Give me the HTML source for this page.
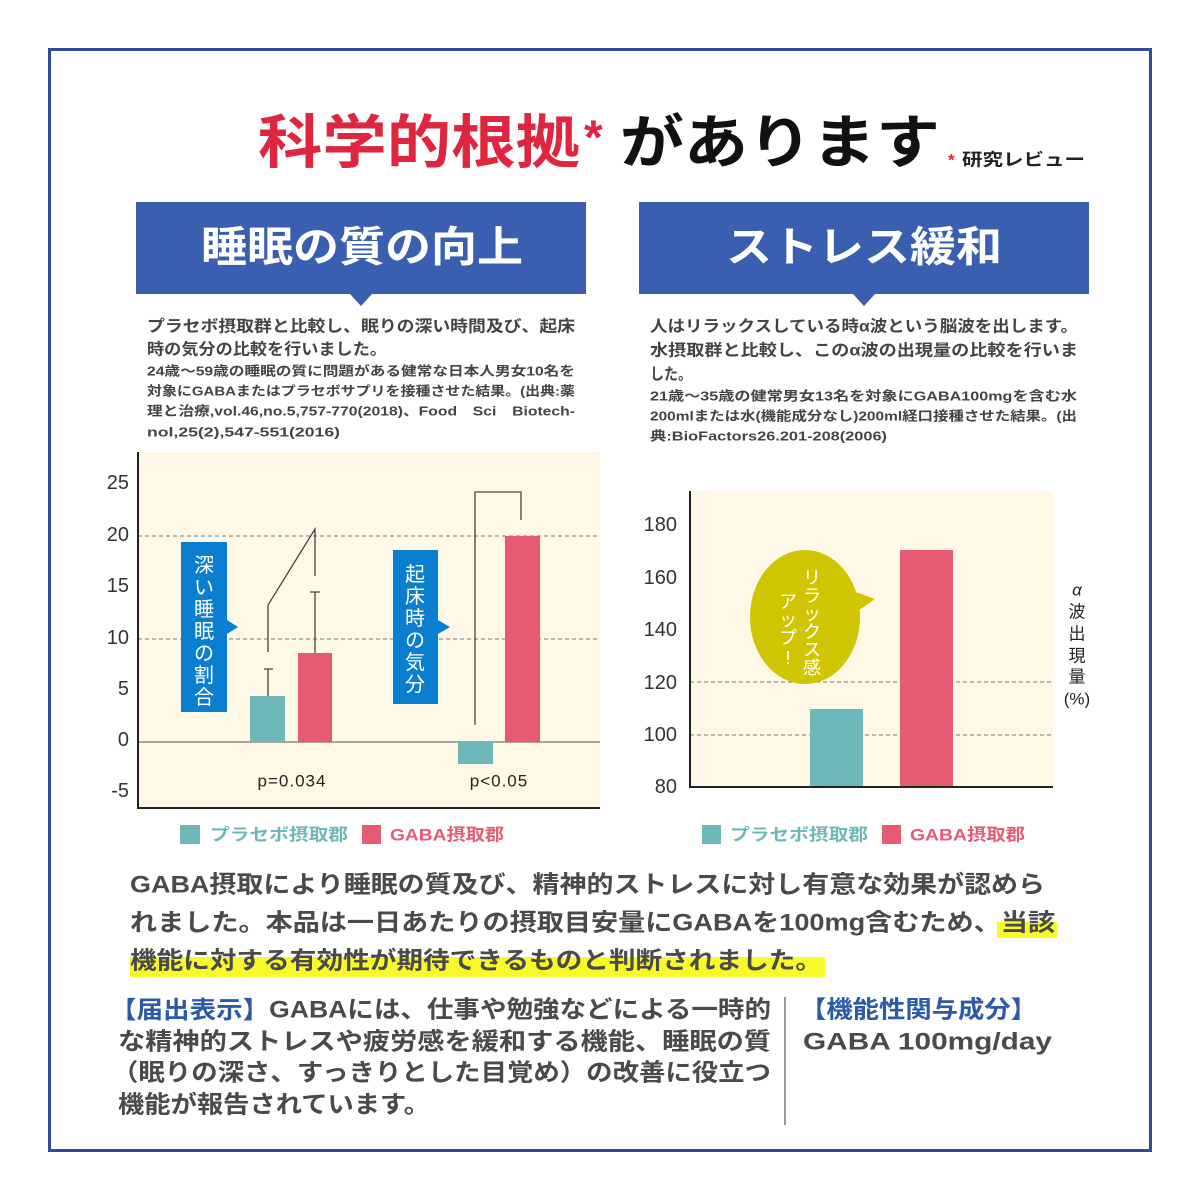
<!DOCTYPE html>
<html><head><meta charset="utf-8"><style>body{margin:0;background:#fff}svg{display:block}text{font-family:"Liberation Sans","Noto Sans CJK JP",sans-serif}</style></head><body>
<svg width="1200" height="1200" viewBox="0 0 1200 1200" xmlns="http://www.w3.org/2000/svg">
<rect width="1200" height="1200" fill="#fff"/>
<rect x="49.5" y="49.5" width="1101" height="1101" fill="none" stroke="#2e4c98" stroke-width="3"/>
<g dominant-baseline="central" font-weight="bold">
<text x="258" y="143" font-size="58" fill="#e0263e" textLength="322" lengthAdjust="spacingAndGlyphs">科学的根拠</text>
<text x="584" y="138" font-size="48" fill="#e0263e">*</text>
<text x="620" y="143" font-size="58" fill="#111" textLength="320" lengthAdjust="spacingAndGlyphs">があります</text>
<text x="948" y="160" font-size="17" fill="#e0263e">*</text>
<text x="962" y="160" font-size="17" fill="#222" textLength="123" lengthAdjust="spacingAndGlyphs">研究レビュー</text>
</g>
<rect x="136" y="202" width="450" height="92" fill="#3b5fb0"/>
<polygon points="350,294 372,294 361,306" fill="#3b5fb0"/>
<rect x="639" y="202" width="450" height="92" fill="#3b5fb0"/>
<polygon points="853,294 875,294 864,306" fill="#3b5fb0"/>
<g dominant-baseline="central" fill="#fff" font-size="42" font-weight="bold">
<text x="201" y="247" textLength="322" lengthAdjust="spacingAndGlyphs">睡眠の質の向上</text>
<text x="726" y="247" textLength="276" lengthAdjust="spacingAndGlyphs">ストレス緩和</text>
</g>
<g dominant-baseline="central" fill="#444" font-weight="bold">
<text x="147" y="327" font-size="16" textLength="428" lengthAdjust="spacingAndGlyphs">プラセボ摂取群と比較し、眠りの深い時間及び、起床</text>
<text x="147" y="350" font-size="16" textLength="240" lengthAdjust="spacingAndGlyphs">時の気分の比較を行いました。</text>
<text x="147" y="371" font-size="13" textLength="428" lengthAdjust="spacingAndGlyphs">24歳～59歳の睡眠の質に問題がある健常な日本人男女10名を</text>
<text x="147" y="391" font-size="13" textLength="428" lengthAdjust="spacingAndGlyphs">対象にGABAまたはプラセボサプリを接種させた結果。(出典:薬</text>
<text x="147" y="411" font-size="13" textLength="428" lengthAdjust="spacingAndGlyphs">理と治療,vol.46,no.5,757-770(2018)、Food　Sci　Biotech-</text>
<text x="147" y="432" font-size="13" textLength="193" lengthAdjust="spacingAndGlyphs">nol,25(2),547-551(2016)</text>
<text x="650" y="327" font-size="16" textLength="428" lengthAdjust="spacingAndGlyphs">人はリラックスしている時α波という脳波を出します。</text>
<text x="650" y="351" font-size="16" textLength="428" lengthAdjust="spacingAndGlyphs">水摂取群と比較し、このα波の出現量の比較を行いま</text>
<text x="650" y="375" font-size="16" textLength="42" lengthAdjust="spacingAndGlyphs">した。</text>
<text x="650" y="396" font-size="13" textLength="427" lengthAdjust="spacingAndGlyphs">21歳～35歳の健常男女13名を対象にGABA100mgを含む水</text>
<text x="650" y="416" font-size="13" textLength="427" lengthAdjust="spacingAndGlyphs">200mlまたは水(機能成分なし)200ml経口接種させた結果。(出</text>
<text x="650" y="436" font-size="13" textLength="237" lengthAdjust="spacingAndGlyphs">典:BioFactors26.201-208(2006)</text>
</g>
<rect x="138" y="452" width="462" height="356" fill="#fff8e6"/>
<g stroke="#777" stroke-dasharray="4,3" stroke-width="1"><line x1="138" y1="639" x2="600" y2="639"/><line x1="138" y1="536" x2="600" y2="536"/></g>
<line x1="138" y1="742" x2="600" y2="742" stroke="#555" stroke-width="1"/>
<path d="M138,452 V808 H600" fill="none" stroke="#222" stroke-width="2"/>
<g font-size="20" fill="#333" text-anchor="end" dominant-baseline="central">
<text x="129" y="483">25</text><text x="129" y="535">20</text><text x="129" y="586">15</text><text x="129" y="638">10</text><text x="129" y="689">5</text><text x="129" y="740">0</text><text x="129" y="791">-5</text>
</g>
<rect x="250" y="696" width="35" height="46" fill="#6fb8b8"/>
<rect x="298" y="653" width="34" height="89" fill="#e65a72"/>
<rect x="458" y="742" width="35" height="22" fill="#6fb8b8"/>
<rect x="505" y="536" width="35" height="206" fill="#e65a72"/>
<g stroke="#444" stroke-width="1.3" fill="none">
<path d="M268,696 V669 M264,669 H273"/>
<path d="M315,653 V592 M310,592 H320"/>
<path d="M268,652 V605 L315,529 V576"/>
<path d="M475,725 V492 H521 V520"/>
</g>
<rect x="181" y="542" width="46" height="170" fill="#0a7fcf"/>
<polygon points="227,620 238,627 227,634" fill="#0a7fcf"/>
<rect x="393" y="550" width="45" height="154" fill="#0a7fcf"/>
<polygon points="438,620 450,627 438,634" fill="#0a7fcf"/>
<g fill="#fff" font-size="20" text-anchor="middle" dominant-baseline="central">
<text x="204" y="566">深</text><text x="204" y="588">い</text><text x="204" y="610">睡</text><text x="204" y="632">眠</text><text x="204" y="654">の</text><text x="204" y="676">割</text><text x="204" y="698">合</text>
<text x="415" y="575">起</text><text x="415" y="597">床</text><text x="415" y="619">時</text><text x="415" y="641">の</text><text x="415" y="663">気</text><text x="415" y="685">分</text>
</g>
<g font-size="17" fill="#222" text-anchor="middle" dominant-baseline="central" letter-spacing="1"><text x="292" y="781">p=0.034</text><text x="499" y="781">p&lt;0.05</text></g>
<rect x="690" y="491" width="363" height="296" fill="#fff8e6"/>
<g stroke="#777" stroke-dasharray="4,3" stroke-width="1"><line x1="690" y1="735" x2="1053" y2="735"/><line x1="690" y1="682" x2="1053" y2="682"/></g>
<rect x="810" y="709" width="53" height="79" fill="#6fb8b8"/>
<rect x="900" y="550" width="53" height="238" fill="#e65a72"/>
<path d="M690,491 V787 H1053" fill="none" stroke="#222" stroke-width="2"/>
<g font-size="20" fill="#333" text-anchor="end" dominant-baseline="central">
<text x="677" y="525">180</text><text x="677" y="578">160</text><text x="677" y="630">140</text><text x="677" y="683">120</text><text x="677" y="735">100</text><text x="677" y="787">80</text>
</g>
<ellipse cx="805" cy="617" rx="55" ry="67" fill="#cfc500"/>
<polygon points="850,590 875,599 852,615" fill="#cfc500"/>
<g fill="#fff" font-size="18" text-anchor="middle" dominant-baseline="central">
<text x="812" y="578">リ</text><text x="812" y="596">ラ</text><text x="812" y="614">ッ</text><text x="812" y="632">ク</text><text x="812" y="650">ス</text><text x="812" y="668">感</text>
<text x="788" y="602">ア</text><text x="788" y="620">ッ</text><text x="788" y="638">プ</text><text x="788" y="658">!</text>
</g>
<g fill="#222" font-size="17" text-anchor="middle" dominant-baseline="central">
<text x="1077" y="590" font-style="italic">α</text><text x="1077" y="612">波</text><text x="1077" y="634">出</text><text x="1077" y="656">現</text><text x="1077" y="677">量</text><text x="1077" y="699">(%)</text>
</g>
<rect x="180" y="825" width="20" height="19" fill="#6fb8b8"/>
<rect x="362" y="825" width="19" height="19" fill="#e65a72"/>
<rect x="702" y="825" width="19" height="19" fill="#6fb8b8"/>
<rect x="882" y="825" width="19" height="19" fill="#e65a72"/>
<g font-size="17" dominant-baseline="central" font-weight="bold">
<text x="210" y="835" fill="#6fb8b8" textLength="138" lengthAdjust="spacingAndGlyphs">プラセボ摂取郡</text>
<text x="390" y="835" fill="#e65a72" textLength="114" lengthAdjust="spacingAndGlyphs">GABA摂取郡</text>
<text x="730" y="835" fill="#6fb8b8" textLength="138" lengthAdjust="spacingAndGlyphs">プラセボ摂取郡</text>
<text x="910" y="835" fill="#e65a72" textLength="115" lengthAdjust="spacingAndGlyphs">GABA摂取郡</text>
</g>
<rect x="997" y="922" width="60" height="16" fill="#f8f82a"/>
<rect x="130" y="957" width="695" height="20" fill="#f8f82a"/>
<g font-size="24" fill="#4a4a4a" font-weight="bold" dominant-baseline="central">
<text x="130" y="885" textLength="915" lengthAdjust="spacingAndGlyphs">GABA摂取により睡眠の質及び、精神的ストレスに対し有意な効果が認めら</text>
<text x="130" y="923" textLength="925" lengthAdjust="spacingAndGlyphs">れました。本品は一日あたりの摂取目安量にGABAを100mg含むため、当該</text>
<text x="130" y="961" textLength="692" lengthAdjust="spacingAndGlyphs">機能に対する有効性が期待できるものと判断されました。</text>
</g>
<line x1="785" y1="997" x2="785" y2="1125" stroke="#777" stroke-width="1.5"/>
<g font-size="24" fill="#4a4a4a" font-weight="bold" dominant-baseline="central">
<text x="110" y="1010" textLength="661" lengthAdjust="spacingAndGlyphs"><tspan fill="#2c5aa8">【届出表示】</tspan>GABAには、仕事や勉強などによる一時的</text>
<text x="118" y="1042" textLength="653" lengthAdjust="spacingAndGlyphs">な精神的ストレスや疲労感を緩和する機能、睡眠の質</text>
<text x="112" y="1073" textLength="659" lengthAdjust="spacingAndGlyphs">（眠りの深さ、すっきりとした目覚め）の改善に役立つ</text>
<text x="118" y="1105" textLength="312" lengthAdjust="spacingAndGlyphs">機能が報告されています。</text>
<text x="800" y="1010" fill="#2c5aa8" textLength="237" lengthAdjust="spacingAndGlyphs">【機能性関与成分】</text>
<text x="803" y="1042" textLength="249" lengthAdjust="spacingAndGlyphs">GABA 100mg/day</text>
</g>
</svg>
</body></html>
